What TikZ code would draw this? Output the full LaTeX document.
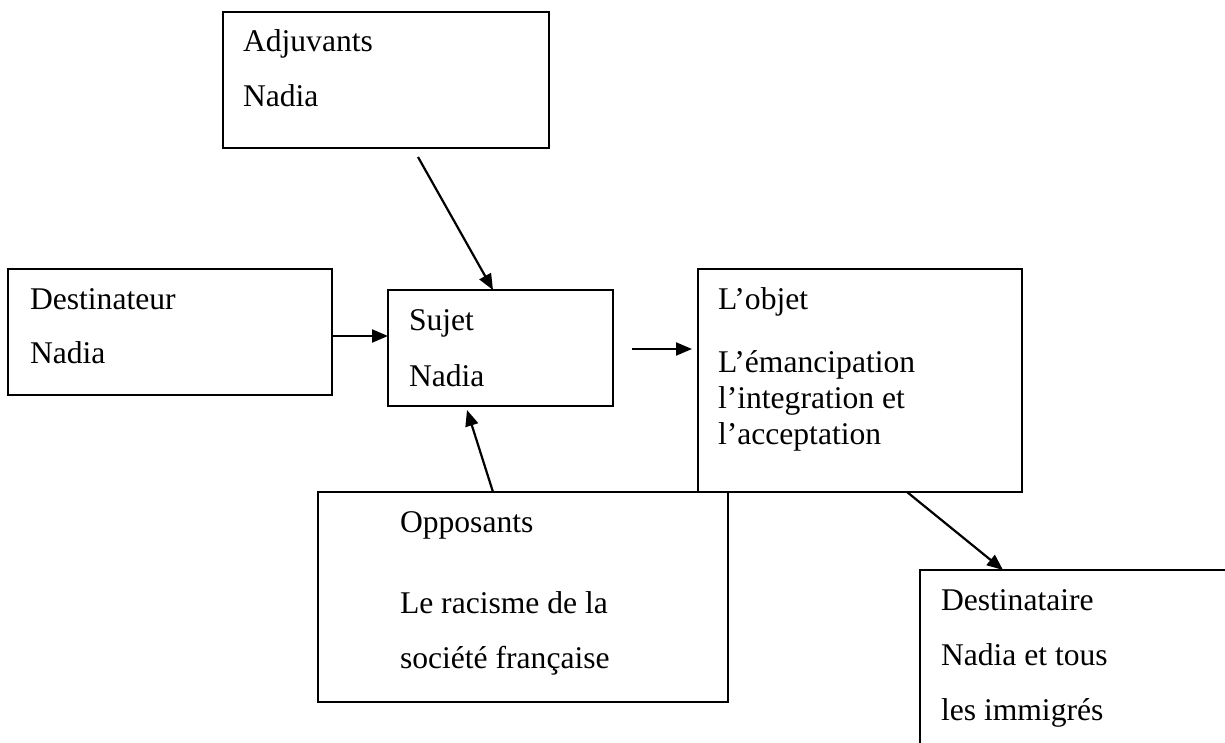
\documentclass[tikz,border=0pt]{standalone}
\usepackage{fontspec}
\setmainfont{Liberation Serif}
\usetikzlibrary{arrows.meta}
\begin{document}
\begin{tikzpicture}[x=1pt,y=-1pt,
  box/.style={draw=black, line width=2pt, rectangle, inner sep=0pt, outer sep=0pt, anchor=north west},
  txt/.style={anchor=base west, inner sep=0pt, outer sep=0pt, font=\fontsize{31.6}{36}\selectfont},
  arr/.style={line width=2.2pt, -{Triangle[length=16pt,width=13pt]}}]
\clip (0,0) rectangle (1225,743);
\fill[white] (0,0) rectangle (1225,743);

% actant boxes
\node[box, minimum width=326pt, minimum height=136pt] (adj) at (223,12) {};
\node[box, minimum width=324pt, minimum height=126pt] (dest) at (8,269) {};
\node[box, minimum width=225pt, minimum height=116pt] (suj) at (388,290) {};
\node[box, minimum width=324pt, minimum height=223pt] (obj) at (698,269) {};
\node[box, minimum width=410pt, minimum height=210pt] (opp) at (318,492) {};
\node[box, minimum width=400pt, minimum height=300pt] (dtr) at (920,570) {};

% labels
\node[txt] (adj1) at (243,52) {Adjuvants};
\node[txt] (adj2) at (243,107) {Nadia};
\node[txt] (dest1) at (30,309) {Destinateur};
\node[txt] (dest2) at (30,363) {Nadia};
\node[txt] (suj1) at (409,330) {Sujet};
\node[txt] (suj2) at (409,386) {Nadia};
\node[txt] (obj1) at (718,309) {L’objet};
\node[txt] (obj2) at (718,372) {L’émancipation};
\node[txt] (obj3) at (718,408) {l’integration et};
\node[txt] (obj4) at (718,444) {l’acceptation};
\node[txt] (opp1) at (400,532) {Opposants};
\node[txt] (opp2) at (400,613) {Le racisme de la};
\node[txt] (opp3) at (400,668) {société française};
\node[txt] (dtr1) at (941,610) {Destinataire};
\node[txt] (dtr2) at (941,665) {Nadia et tous};
\node[txt] (dtr3) at (941,720) {les immigrés};

% connectors
\draw[arr] ([xshift=195pt,yshift=-9pt]adj.south west) -- ([xshift=105pt]suj.north west);
\draw[arr] ([yshift=-67pt]dest.north east) -- ([yshift=-46pt]suj.north west);
\draw[arr] ([xshift=19pt,yshift=-59pt]suj.north east) -- ([xshift=-6pt,yshift=-80pt]obj.north west);
\draw[arr] ([xshift=-235pt]opp.north east) -- ([xshift=79pt,yshift=-4pt]suj.south west);
\draw[arr] ([xshift=209pt]obj.south west) -- ([xshift=83pt]dtr.north west);
\end{tikzpicture}
\end{document}
